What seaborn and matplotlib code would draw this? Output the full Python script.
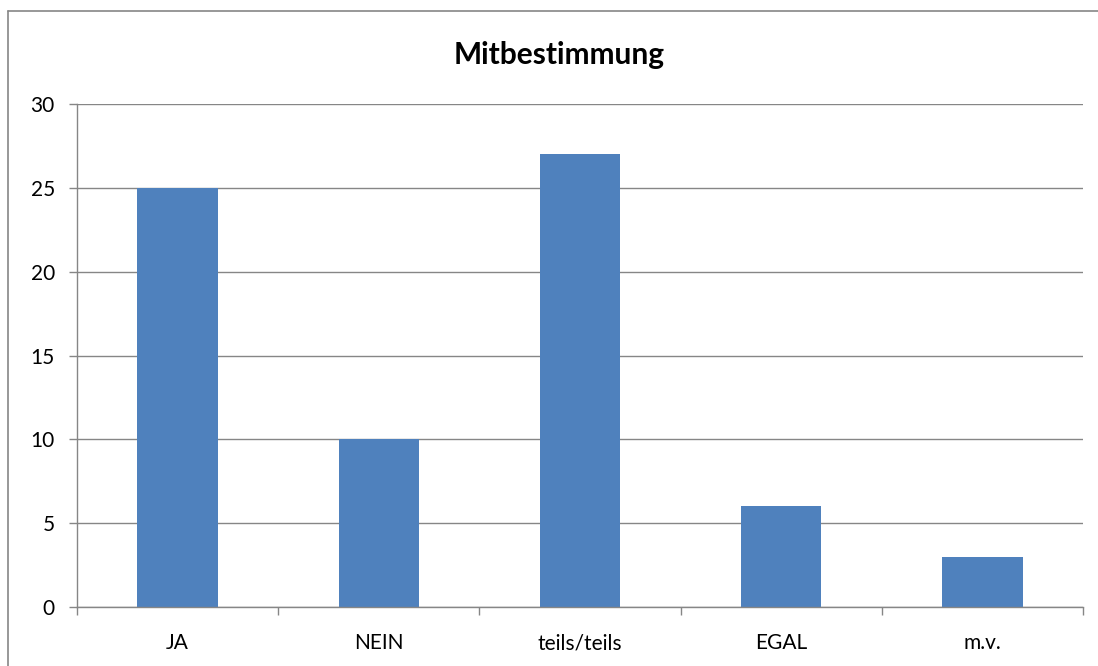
import matplotlib
matplotlib.use("Agg")
import matplotlib.pyplot as plt
import seaborn as sns
import pandas as pd
from matplotlib.lines import Line2D
from matplotlib.ticker import FixedLocator, MultipleLocator

categories = ["JA", "NEIN", "teils/teils", "EGAL", "m.v."]
values = [25, 10, 27, 6, 3]
title = "Mitbestimmung"

sns.set_theme(style="white")
plt.rcParams["font.family"] = ["Lato", "DejaVu Sans"]

df = pd.DataFrame({"cat": categories, "val": values})

fig = plt.figure(figsize=(10.98, 6.66), dpi=100)
ax = fig.add_axes([77 / 1098, 1 - 607 / 666, (1083 - 77) / 1098, (607 - 104) / 666])

bar_color = "#4F81BD"
grey = "#868686"

sns.barplot(data=df, x="cat", y="val", color=bar_color, width=0.4,
            saturation=1, ax=ax, edgecolor="none")

ax.set_xlim(-0.5, len(categories) - 0.5)
ax.set_ylim(0, 30)
ax.yaxis.set_major_locator(MultipleLocator(5))
ax.set_xlabel("")
ax.set_ylabel("")

ax.grid(axis="y", color=grey, linewidth=1.0)
ax.set_axisbelow(True)
for s in ["top", "right"]:
    ax.spines[s].set_visible(False)
for s in ["left", "bottom"]:
    ax.spines[s].set_color(grey)
    ax.spines[s].set_linewidth(1.0)

ax.xaxis.set_minor_locator(FixedLocator([i - 0.5 for i in range(len(categories) + 1)]))
ax.tick_params(axis="x", which="major", length=0, pad=19, labelsize=15, colors="black")
ax.tick_params(axis="x", which="minor", bottom=True, length=6, width=1.0, color=grey)
ax.tick_params(axis="y", which="major", left=True, length=6, width=1.0, color=grey,
               pad=10, labelsize=15, labelcolor="black")

fig.text(559 / 1098, 1 - 55 / 666, title, ha="center", va="center",
         fontsize=21.5, fontweight="bold", color="black")

fig.add_artist(Line2D([8 / 1098, 8 / 1098], [0, 1 - 11 / 666], transform=fig.transFigure,
                      color=grey, linewidth=1.2))
fig.add_artist(Line2D([8 / 1098, 1], [1 - 11 / 666, 1 - 11 / 666], transform=fig.transFigure,
                      color=grey, linewidth=1.2))

fig.savefig("out.png", dpi=100, facecolor="white")
